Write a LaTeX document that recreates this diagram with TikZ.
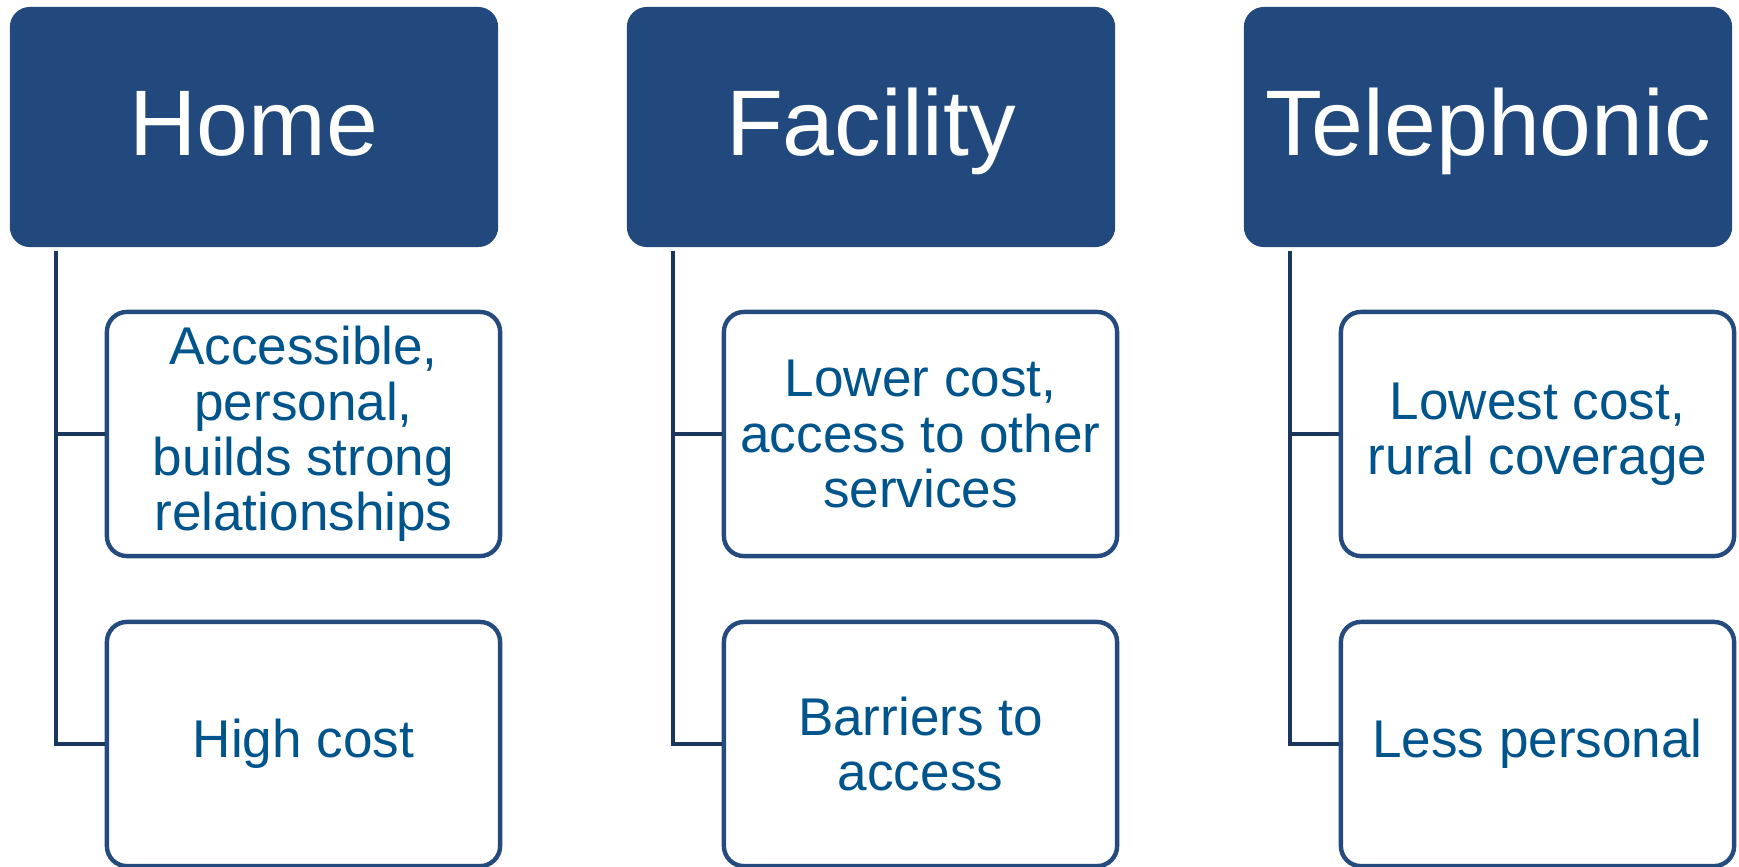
\documentclass[tikz,border=0pt]{standalone}
\usepackage{fontspec}
\setmainfont{Liberation Sans}
\definecolor{HeadColor}{RGB}{33,73,125}
\definecolor{BorderColor}{RGB}{36,74,126}
\definecolor{LinkColor}{RGB}{26,54,93}
\definecolor{TextColor}{RGB}{0,84,140}
\usetikzlibrary{positioning}
\tikzstyle{head} = [rectangle, rounded corners=0.2cm, fill=HeadColor, text=white, minimum width=4.88cm, minimum height=2.4cm, inner sep=2pt, text height=0.7cm, text depth=0.14cm, font=\fontsize{26.5}{28}\selectfont]
\tikzstyle{item} = [rectangle, rounded corners=0.2cm, draw=BorderColor, line width=1.25pt, fill=white, text=TextColor, minimum width=3.93cm, minimum height=2.44cm, inner sep=2pt, align=center, font=\fontsize{15.1}{15.7}\selectfont]
\tikzstyle{link} = [line width=1.25pt, LinkColor]

\begin{document}
\begin{tikzpicture}[x=0.01cm, y=-0.01cm]
            \useasboundingbox (0,0) rectangle (1739,866);

            % Home
            \node[head] (home) at (254,127) {Home};
            \node[item] (home1) at (303.5,434) {Accessible,\\personal,\\builds strong\\relationships};
            \node[item] (home2) at (303.5,744) {High cost};
            \draw[link] ([xshift=0.47cm, yshift=-0.03cm]home.south west) |- (home1.west);
            \draw[link] ([xshift=0.47cm, yshift=-0.03cm]home.south west) |- (home2.west);

            % Facility
            \node[head] (facility) at (871,127) {Facility};
            \node[item] (facility1) at (920.5,434) {Lower cost,\\access to other\\services};
            \node[item] (facility2) at (920.5,744) {Barriers to\\access};
            \draw[link] ([xshift=0.47cm, yshift=-0.03cm]facility.south west) |- (facility1.west);
            \draw[link] ([xshift=0.47cm, yshift=-0.03cm]facility.south west) |- (facility2.west);

            % Telephonic
            \node[head] (phone) at (1488,127) {Telephonic};
            \node[item] (phone1) at (1537.5,434) {Lowest cost,\\rural coverage};
            \node[item] (phone2) at (1537.5,744) {Less personal};
            \draw[link] ([xshift=0.47cm, yshift=-0.03cm]phone.south west) |- (phone1.west);
            \draw[link] ([xshift=0.47cm, yshift=-0.03cm]phone.south west) |- (phone2.west);
        \end{tikzpicture}
\end{document}
